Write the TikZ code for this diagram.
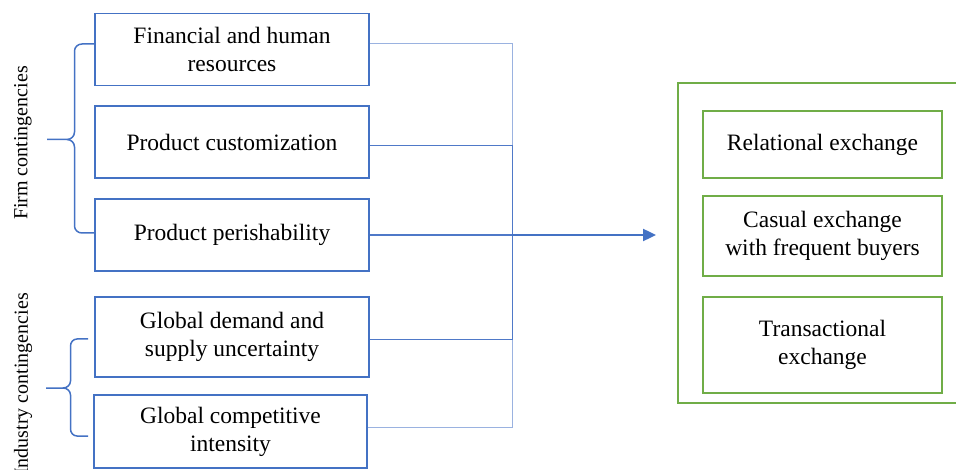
\documentclass[tikz,border=0pt]{standalone}
\usepackage{fontspec}
\setmainfont{Liberation Serif}
\usetikzlibrary{arrows.meta}
\definecolor{boxblue}{HTML}{4472C4}
\definecolor{lineblue}{HTML}{4F79C8}
\definecolor{lightblue}{HTML}{9AB2E0}
\definecolor{boxgreen}{HTML}{70AD47}
\begin{document}
\begin{tikzpicture}[x=1pt,y=-1pt,
  txt/.style={align=center,inner sep=0pt,font=\fontsize{23.5}{28}\selectfont},
  leftbox/.style={txt,draw=boxblue,line width=1.8pt,minimum width=274pt},
  rightbox/.style={txt,draw=boxgreen,line width=1.6pt,minimum width=239pt},
  outerbox/.style={draw=boxgreen,line width=1.6pt,minimum width=284pt,minimum height=320pt,inner sep=0pt},
  lightconn/.style={draw=lightblue,line width=1pt},
  conn/.style={draw=lineblue,line width=1pt},
  mainconn/.style={draw=lineblue,line width=1.4pt},
  arrowconn/.style={draw=boxblue,line width=2.4pt,-{Triangle[length=13pt,width=12pt]}},
  bracestyle/.style={draw=boxblue,line width=1.5pt},
  sidelabel/.style={rotate=90,inner sep=0pt,font=\fontsize{20}{24}\selectfont}]
\useasboundingbox (0,0) rectangle (956,470);

% left boxes
\node[leftbox,minimum height=72pt] (b1) at (232,49.5) {Financial and human\\resources};
\node[leftbox,minimum height=72pt] (b2) at (232,142) {Product customization};
\node[leftbox,minimum height=72pt] (b3) at (232,235) {Product perishability};
\node[leftbox,minimum height=80pt] (b4) at (232,337) {Global demand and\\supply uncertainty};
\node[leftbox,minimum height=73pt,minimum width=273pt] (b5) at (230.5,431.5) {Global competitive\\intensity};

% side labels
\node[sidelabel] (firm) at (23,143) {Firm contingencies};
\node[sidelabel] (ind) at (23,384) {Industry contingencies};

% braces
\draw[bracestyle] (95,44) -- (82,44) to[out=180,in=90] (74.5,51) -- (74.5,132)
  to[out=-90,in=0] (67,139.5) -- (47,139.5);
\draw[bracestyle] (67,139.5) to[out=0,in=90] (74.5,147) -- (74.5,226)
  to[out=-90,in=180] (82,233) -- (95,233);
\draw[bracestyle] (88,339) -- (77,339) to[out=180,in=90] (70.5,346) -- (70.5,381)
  to[out=-90,in=0] (63,388) -- (46,388);
\draw[bracestyle] (63,388) to[out=0,in=90] (70.5,395) -- (70.5,429)
  to[out=-90,in=180] (77,436) -- (88,436);

% right side
\node[outerbox] (outer) at (820,243) {};
\node[rightbox,minimum height=67pt] (r1) at (822.5,144.5) {Relational exchange};
\node[rightbox,minimum height=80pt] (r2) at (822.5,236) {Casual exchange\\with frequent buyers};
\node[rightbox,minimum height=96pt] (r3) at (822.5,345) {Transactional\\exchange};

% connectors
\coordinate (j) at (512,235);
\coordinate (tip) at (656,235);
\draw[lightconn] ([yshift=5.8pt]b1.east) -| (j);
\draw[lightconn] ([yshift=4.5pt]b5.east) -| (j);
\draw[conn] ([yshift=-4pt]b2.east) -| (j);
\draw[conn] ([yshift=-3pt]b4.east) -| (j);
\draw[mainconn] (b3.east) -- (j);
\draw[arrowconn] (j) -- (tip);
\end{tikzpicture}
\end{document}
